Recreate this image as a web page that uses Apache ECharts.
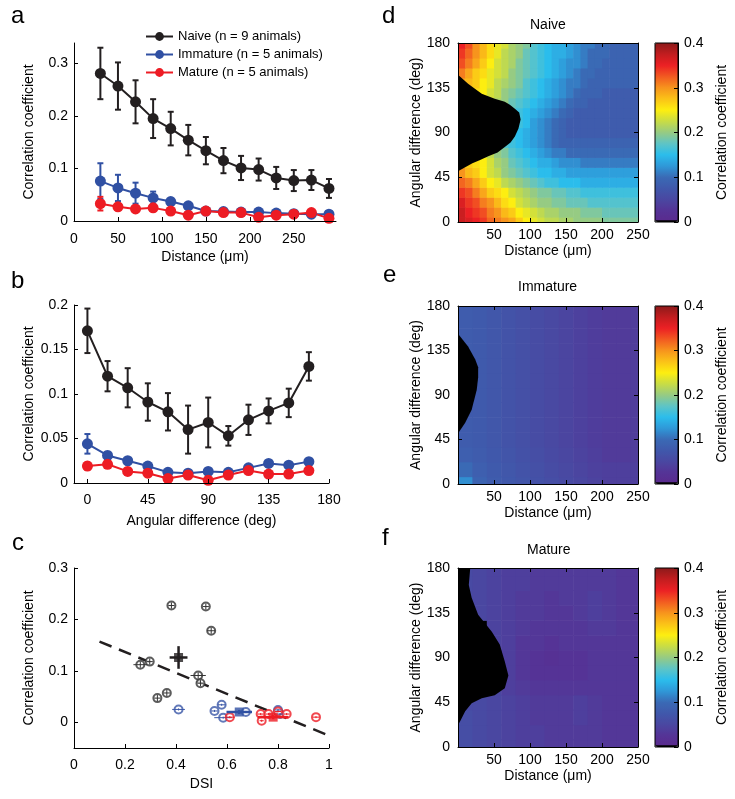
<!DOCTYPE html>
<html>
<head>
<meta charset="utf-8">
<script src="https://cdn.jsdelivr.net/npm/echarts@6/dist/echarts.min.js"></script>
<style>
  html, body { margin: 0; padding: 0; background: #fff; }
  #chart { width: 735px; height: 799px; }
</style>
</head>
<body>
<div id="chart"></div>
<script>
  // ---- panel a: correlation vs distance ----
  const distA = [30, 50, 70, 90, 110, 130, 150, 170, 190, 210, 230, 250, 270, 290]
  const naiveA = [0.281, 0.257, 0.227, 0.195, 0.176, 0.154, 0.134, 0.115, 0.101, 0.098, 0.082, 0.077, 0.078, 0.062]
  const naiveAErr = [0.049, 0.045, 0.041, 0.037, 0.032, 0.029, 0.026, 0.024, 0.023, 0.021, 0.021, 0.020, 0.019, 0.018]
  const immatureA = [0.076, 0.063, 0.053, 0.044, 0.037, 0.029, 0.019, 0.018, 0.017, 0.017, 0.015, 0.014, 0.013, 0.013]
  const immatureAErr = [0.034, 0.025, 0.020, 0.012, 0.006, 0.004, 0.003, 0.003, 0.003, 0.003, 0.003, 0.003, 0.003, 0.003]
  const matureA = [0.033, 0.027, 0.023, 0.025, 0.019, 0.011, 0.019, 0.016, 0.016, 0.007, 0.011, 0.013, 0.016, 0.005]
  const matureAErr = [0.013, 0.005, 0.004, 0.004, 0.003, 0.003, 0.003, 0.003, 0.003, 0.004, 0.003, 0.003, 0.003, 0.003]

  // ---- panel b: correlation vs angular difference ----
  const angleB = [0, 15, 30, 45, 60, 75, 90, 105, 120, 135, 150, 165]
  const naiveB = [0.171, 0.120, 0.107, 0.091, 0.080, 0.060, 0.068, 0.053, 0.071, 0.081, 0.090, 0.131]
  const naiveBErr = [0.025, 0.017, 0.022, 0.021, 0.021, 0.027, 0.028, 0.011, 0.017, 0.014, 0.016, 0.016]
  const immatureB = [0.044, 0.031, 0.025, 0.019, 0.012, 0.011, 0.013, 0.012, 0.017, 0.022, 0.020, 0.024]
  const immatureBErr = [0.011, 0.004, 0.003, 0.003, 0.003, 0.003, 0.003, 0.003, 0.003, 0.003, 0.003, 0.003]
  const matureB = [0.019, 0.021, 0.013, 0.011, 0.005, 0.009, 0.003, 0.009, 0.014, 0.010, 0.010, 0.014]
  const matureBErr = [0.004, 0.004, 0.004, 0.003, 0.003, 0.003, 0.003, 0.003, 0.003, 0.003, 0.003, 0.004]

  // ---- panel c: correlation vs DSI, [dsi, corr, dsiErr, corrErr] ----
  const naivePts = [[0.382, 0.227, 0.012, 0.006], [0.517, 0.225, 0.012, 0.006], [0.538, 0.178, 0.016, 0.006],
    [0.260, 0.112, 0.027, 0.006], [0.297, 0.118, 0.012, 0.006], [0.487, 0.091, 0.030, 0.006],
    [0.496, 0.076, 0.012, 0.006], [0.327, 0.047, 0.012, 0.006], [0.364, 0.057, 0.012, 0.006]]
  const immaturePts = [[0.410, 0.025, 0.025, 0.002], [0.551, 0.022, 0.013, 0.002], [0.579, 0.034, 0.016, 0.002],
    [0.585, 0.009, 0.035, 0.002], [0.674, 0.020, 0.015, 0.002], [0.800, 0.024, 0.012, 0.002], [0.808, 0.016, 0.012, 0.002]]
  const maturePts = [[0.611, 0.010, 0.020, 0.002], [0.732, 0.016, 0.012, 0.002], [0.736, 0.003, 0.008, 0.002],
    [0.763, 0.016, 0.012, 0.002], [0.800, 0.021, 0.012, 0.002], [0.834, 0.016, 0.012, 0.002], [0.949, 0.010, 0.012, 0.002]]
  const groupMeans = [[0.410, 0.126, 0.035, 0.022], [0.648, 0.020, 0.050, 0.004], [0.781, 0.010, 0.060, 0.004]]
  const fitDsi = [0.1, 1.0]
  const fitCorr = [0.157, -0.026]

  // ---- panel d: naive map (rows = angle, cols = distance), -1 = no data ----
  const naiveDist = [5, 15, 25, 35, 45, 55, 65, 75, 85, 95, 105, 115, 125, 135, 145, 155, 165, 175, 185, 195, 205, 215, 225, 235, 245]
  const naiveAngle = [0, 10, 20, 30, 40, 50, 60, 70, 80, 90, 100, 110, 120, 130, 140, 150, 160, 170, 180]
  const naiveMap = [
    [0.37, 0.36, 0.35, 0.34, 0.32, 0.31, 0.30, 0.29, 0.27, 0.25, 0.24, 0.23, 0.22, 0.22, 0.21, 0.21, 0.20, 0.20, 0.20, 0.20, 0.19, 0.19, 0.19, 0.19, 0.19],
    [0.37, 0.35, 0.34, 0.33, 0.31, 0.30, 0.28, 0.27, 0.25, 0.24, 0.23, 0.22, 0.21, 0.21, 0.20, 0.20, 0.20, 0.19, 0.19, 0.19, 0.18, 0.18, 0.18, 0.18, 0.18],
    [0.36, 0.34, 0.33, 0.31, 0.30, 0.28, 0.26, 0.25, 0.23, 0.22, 0.21, 0.20, 0.20, 0.19, 0.19, 0.18, 0.18, 0.18, 0.17, 0.17, 0.17, 0.17, 0.17, 0.17, 0.17],
    [0.34, 0.33, 0.31, 0.29, 0.27, 0.26, 0.25, 0.23, 0.22, 0.21, 0.20, 0.19, 0.19, 0.18, 0.18, 0.17, 0.17, 0.16, 0.16, 0.16, 0.16, 0.16, 0.16, 0.16, 0.16],
    [0.32, 0.31, 0.29, 0.27, 0.25, 0.24, 0.22, 0.21, 0.20, 0.19, 0.18, 0.17, 0.16, 0.16, 0.15, 0.15, 0.15, 0.14, 0.14, 0.14, 0.14, 0.14, 0.14, 0.14, 0.14],
    [0.30, 0.28, 0.27, 0.25, 0.23, 0.22, 0.20, 0.19, 0.18, 0.17, 0.16, 0.15, 0.15, 0.14, 0.14, 0.13, 0.13, 0.13, 0.13, 0.13, 0.13, 0.13, 0.13, 0.13, 0.13],
    [0.28, 0.27, 0.26, 0.25, 0.23, 0.21, 0.20, 0.18, 0.17, 0.16, 0.15, 0.14, 0.14, 0.13, 0.12, 0.12, 0.12, 0.11, 0.11, 0.11, 0.11, 0.11, 0.11, 0.11, 0.11],
    [-1, -1, 0.24, 0.23, 0.22, 0.20, 0.19, 0.17, 0.16, 0.15, 0.14, 0.13, 0.12, 0.11, 0.11, 0.10, 0.10, 0.10, 0.10, 0.10, 0.10, 0.10, 0.10, 0.10, 0.10],
    [-1, -1, -1, -1, 0.20, 0.19, 0.17, 0.16, 0.15, 0.14, 0.13, 0.12, 0.11, 0.10, 0.09, 0.09, 0.09, 0.09, 0.09, 0.09, 0.09, 0.09, 0.09, 0.09, 0.09],
    [-1, -1, -1, -1, -1, -1, 0.17, 0.16, 0.15, 0.14, 0.13, 0.12, 0.11, 0.10, 0.09, 0.08, 0.08, 0.08, 0.08, 0.08, 0.08, 0.08, 0.08, 0.08, 0.08],
    [-1, -1, -1, -1, -1, -1, -1, -1, 0.16, 0.15, 0.13, 0.12, 0.11, 0.10, 0.09, 0.08, 0.08, 0.08, 0.08, 0.08, 0.08, 0.08, 0.08, 0.08, 0.08],
    [-1, -1, -1, -1, -1, -1, -1, 0.17, 0.16, 0.15, 0.14, 0.13, 0.12, 0.11, 0.10, 0.09, 0.08, 0.08, 0.08, 0.08, 0.08, 0.08, 0.08, 0.08, 0.08],
    [-1, -1, -1, -1, 0.22, 0.21, 0.20, 0.18, 0.17, 0.16, 0.15, 0.14, 0.13, 0.12, 0.11, 0.10, 0.09, 0.09, 0.08, 0.08, 0.08, 0.08, 0.08, 0.08, 0.08],
    [-1, -1, 0.26, 0.25, 0.23, 0.22, 0.20, 0.19, 0.18, 0.17, 0.16, 0.15, 0.14, 0.13, 0.12, 0.11, 0.10, 0.09, 0.09, 0.09, 0.08, 0.08, 0.08, 0.08, 0.08],
    [0.29, 0.28, 0.27, 0.25, 0.24, 0.22, 0.21, 0.20, 0.19, 0.17, 0.16, 0.15, 0.14, 0.13, 0.12, 0.11, 0.11, 0.10, 0.09, 0.09, 0.09, 0.09, 0.09, 0.09, 0.09],
    [0.31, 0.29, 0.27, 0.26, 0.24, 0.23, 0.22, 0.20, 0.19, 0.18, 0.17, 0.16, 0.15, 0.14, 0.13, 0.12, 0.11, 0.10, 0.10, 0.09, 0.09, 0.09, 0.09, 0.09, 0.09],
    [0.33, 0.31, 0.29, 0.27, 0.25, 0.23, 0.22, 0.21, 0.19, 0.18, 0.17, 0.16, 0.15, 0.14, 0.13, 0.12, 0.12, 0.11, 0.10, 0.10, 0.09, 0.09, 0.09, 0.09, 0.09],
    [0.34, 0.32, 0.30, 0.28, 0.26, 0.24, 0.22, 0.21, 0.20, 0.18, 0.17, 0.16, 0.15, 0.14, 0.14, 0.13, 0.12, 0.11, 0.10, 0.10, 0.10, 0.09, 0.09, 0.09, 0.09],
    [0.35, 0.33, 0.30, 0.28, 0.26, 0.24, 0.23, 0.21, 0.20, 0.19, 0.17, 0.16, 0.15, 0.14, 0.14, 0.13, 0.12, 0.11, 0.11, 0.10, 0.10, 0.09, 0.09, 0.09, 0.09]
  ]
  const naiveMaskDist = [0, 10, 20, 30, 42, 55, 65, 73, 79, 84, 87, 85, 79, 72, 65, 51, 33, 14, 0]
  const naiveMaskAngle = [51, 55, 59, 62, 66, 70, 75.5, 80, 86, 94, 103, 110, 114, 118, 121, 124, 129, 139, 148]

  // ---- panels e, f: immature / mature maps ----
  const mapDist = [10, 30, 50, 70, 90, 110, 130, 150, 170, 190, 210, 230, 250]
  const mapAngle = [0, 15, 30, 45, 60, 75, 90, 105, 120, 135, 150, 165, 180]
  const immatureMap = [
    [0.120, 0.090, 0.080, 0.075, 0.070, 0.065, 0.060, 0.055, 0.050, 0.045, 0.040, 0.040, 0.040],
    [0.100, 0.085, 0.078, 0.073, 0.068, 0.063, 0.058, 0.053, 0.048, 0.043, 0.040, 0.040, 0.040],
    [0.085, 0.080, 0.075, 0.070, 0.065, 0.060, 0.055, 0.050, 0.045, 0.040, 0.035, 0.035, 0.037],
    [0.080, 0.078, 0.073, 0.068, 0.063, 0.058, 0.053, 0.048, 0.043, 0.038, 0.035, 0.035, 0.037],
    [0.080, 0.078, 0.073, 0.068, 0.063, 0.058, 0.053, 0.048, 0.043, 0.038, 0.035, 0.035, 0.037],
    [0.078, 0.078, 0.073, 0.068, 0.063, 0.058, 0.053, 0.048, 0.043, 0.038, 0.035, 0.035, 0.037],
    [-1, 0.078, 0.073, 0.068, 0.063, 0.058, 0.053, 0.048, 0.043, 0.038, 0.035, 0.035, 0.037],
    [-1, 0.078, 0.073, 0.068, 0.063, 0.058, 0.053, 0.048, 0.043, 0.038, 0.035, 0.035, 0.037],
    [-1, 0.078, 0.073, 0.068, 0.063, 0.058, 0.053, 0.048, 0.043, 0.038, 0.035, 0.035, 0.037],
    [0.080, 0.078, 0.073, 0.068, 0.063, 0.058, 0.053, 0.048, 0.043, 0.038, 0.035, 0.035, 0.037],
    [0.080, 0.078, 0.073, 0.068, 0.063, 0.058, 0.053, 0.048, 0.043, 0.038, 0.035, 0.035, 0.037],
    [0.080, 0.078, 0.073, 0.068, 0.063, 0.058, 0.053, 0.048, 0.043, 0.038, 0.035, 0.035, 0.037],
    [0.080, 0.078, 0.073, 0.068, 0.063, 0.058, 0.053, 0.048, 0.043, 0.038, 0.035, 0.035, 0.037]
  ]
  const immatureMaskDist = [0, 14, 24, 28, 28, 26, 19, 10, 0]
  const immatureMaskAngle = [152, 139, 126, 118, 108, 95, 75, 62, 51]
  const matureMap = [
    [0.060, 0.055, 0.050, 0.045, 0.040, 0.040, 0.035, 0.035, 0.035, 0.035, 0.030, 0.030, 0.030],
    [0.060, 0.055, 0.050, 0.045, 0.040, 0.040, 0.035, 0.035, 0.035, 0.035, 0.030, 0.030, 0.030],
    [0.060, 0.055, 0.050, 0.045, 0.040, 0.035, 0.035, 0.035, 0.040, 0.035, 0.030, 0.030, 0.030],
    [0.055, 0.055, 0.050, 0.045, 0.040, 0.035, 0.035, 0.035, 0.040, 0.035, 0.030, 0.030, 0.030],
    [-1, -1, 0.050, 0.040, 0.035, 0.030, 0.030, 0.030, 0.030, 0.030, 0.030, 0.030, 0.030],
    [-1, -1, -1, 0.040, 0.030, 0.025, 0.025, 0.025, 0.025, 0.030, 0.030, 0.030, 0.030],
    [-1, -1, -1, 0.040, 0.030, 0.025, 0.020, 0.025, 0.025, 0.030, 0.030, 0.030, 0.030],
    [-1, -1, 0.045, 0.040, 0.030, 0.030, 0.025, 0.030, 0.030, 0.030, 0.030, 0.030, 0.030],
    [-1, -1, 0.045, 0.040, 0.035, 0.030, 0.030, 0.030, 0.030, 0.035, 0.035, 0.030, 0.030],
    [-1, 0.050, 0.045, 0.040, 0.035, 0.035, 0.030, 0.030, 0.035, 0.040, 0.035, 0.030, 0.030],
    [0.055, 0.050, 0.045, 0.040, 0.035, 0.035, 0.030, 0.035, 0.035, 0.040, 0.035, 0.030, 0.030],
    [0.055, 0.050, 0.045, 0.040, 0.040, 0.035, 0.035, 0.035, 0.035, 0.035, 0.035, 0.030, 0.030],
    [0.055, 0.050, 0.045, 0.040, 0.040, 0.035, 0.035, 0.035, 0.035, 0.035, 0.035, 0.030, 0.030]
  ]
  const matureMaskDist = [0, 17, 15, 19, 28, 47, 58, 65, 70, 65, 51, 33, 19, 10, 3, 0]
  const matureMaskAngle = [180, 180, 163, 150, 133, 116, 103, 86, 72, 59, 52, 49, 44, 36, 26, 22]

  const groupNames = ['Naive (n = 9 animals)', 'Immature (n = 5 animals)', 'Mature (n = 5 animals)']
  const mapTitles = ['Naive', 'Immature', 'Mature']

  const FONT = '"Liberation Sans", Arial, sans-serif'
  const BLACK = '#231f20', BLUE = '#3050a3', RED = '#ed1c24'
  const JET = ['#5b2a8d', '#553396', '#4a47a1', '#4058ab', '#3a6ab5', '#2f98d8', '#2bbdec', '#5ec4c6',
    '#96cb83', '#c8dc45', '#fdee10', '#fbc217', '#f7941d', '#f25a21', '#ec2024', '#c21d1f', '#8c1a1a']

  const textStyle = { color: '#000', fontSize: 14, fontFamily: FONT }

  function axis(gridIndex, min, max, ticks, opts) {
    opts = opts || {}
    return {
      type: 'value', gridIndex: gridIndex, min: min, max: max,
      position: opts.position, show: opts.show !== false, z: 10,
      name: opts.name, nameLocation: 'middle', nameGap: opts.nameGap, nameTextStyle: textStyle,
      axisLine: { show: true, onZero: false, lineStyle: { color: '#000', width: 1 } },
      axisTick: { show: !!ticks, inside: true, length: 4, customValues: ticks, lineStyle: { color: '#000' } },
      axisLabel: Object.assign({ show: opts.labels !== false, customValues: ticks, margin: opts.margin || 8 }, textStyle),
      splitLine: { show: false }
    }
  }

  function errorBar(color, width, cap) {
    return function (params, api) {
      const x = api.value(0), y = api.value(1), e = api.value(2)
      const hi = api.coord([x, y + e]), lo = api.coord([x, y - e])
      const s = { stroke: color, lineWidth: width }
      return { type: 'group', children: [
        { type: 'line', shape: { x1: hi[0], y1: hi[1], x2: lo[0], y2: lo[1] }, style: s },
        { type: 'line', shape: { x1: hi[0] - cap, y1: hi[1], x2: hi[0] + cap, y2: hi[1] }, style: s },
        { type: 'line', shape: { x1: lo[0] - cap, y1: lo[1], x2: lo[0] + cap, y2: lo[1] }, style: s }
      ] }
    }
  }

  function crossBar(color, width) {
    return function (params, api) {
      const x = api.value(0), y = api.value(1), ex = api.value(2), ey = api.value(3)
      const l = api.coord([x - ex, y]), r = api.coord([x + ex, y])
      const t = api.coord([x, y + ey]), b = api.coord([x, y - ey])
      const s = { stroke: color, lineWidth: width }
      return { type: 'group', children: [
        { type: 'line', shape: { x1: l[0], y1: l[1], x2: r[0], y2: r[1] }, style: s },
        { type: 'line', shape: { x1: t[0], y1: t[1], x2: b[0], y2: b[1] }, style: s }
      ] }
    }
  }

  function cellItem(stepD, stepA) {
    return function (params, api) {
      const x = api.value(0), y = api.value(1)
      const p0 = api.coord([x - stepD / 2, y + stepA / 2])
      const p1 = api.coord([x + stepD / 2, y - stepA / 2])
      return {
        type: 'rect',
        shape: { x: p0[0], y: p0[1], width: p1[0] - p0[0] + 0.6, height: p1[1] - p0[1] + 0.6 },
        style: { fill: api.visual('color') }
      }
    }
  }

  // no-data region: one polygon through all outline points
  function maskItem(dists, angles) {
    return function (params, api) {
      if (params.dataIndex !== 0) return
      const pts = dists.map((d, i) => api.coord([d, angles[i]]))
      return { type: 'polygon', shape: { points: pts }, style: { fill: '#000' } }
    }
  }

  const series = []

  function addLineGroup(idx, xs, ys, errs, name, color) {
    series.push({
      type: 'custom', xAxisIndex: idx, yAxisIndex: idx, silent: true, z: 2,
      data: xs.map((x, i) => [x, ys[i], errs[i]]), renderItem: errorBar(color, 2, 3)
    })
    series.push({
      type: 'line', name: name, xAxisIndex: idx, yAxisIndex: idx, z: 3,
      data: xs.map((x, i) => [x, ys[i]]), symbol: 'circle', symbolSize: 11,
      itemStyle: { color: color }, lineStyle: { color: color, width: 2 }
    })
  }

  addLineGroup(0, distA, naiveA, naiveAErr, groupNames[0], BLACK)
  addLineGroup(0, distA, immatureA, immatureAErr, groupNames[1], BLUE)
  addLineGroup(0, distA, matureA, matureAErr, groupNames[2], RED)
  addLineGroup(1, angleB, naiveB, naiveBErr, groupNames[0], BLACK)
  addLineGroup(1, angleB, immatureB, immatureBErr, groupNames[1], BLUE)
  addLineGroup(1, angleB, matureB, matureBErr, groupNames[2], RED)

  // panel c
  series.push({
    type: 'line', xAxisIndex: 2, yAxisIndex: 2, silent: true, symbol: 'none', z: 2,
    data: fitDsi.map((x, i) => [x, fitCorr[i]]),
    lineStyle: { color: BLACK, width: 2.5, type: [13, 8] }
  })
  const scatterGroups = [[naivePts, '#333333'], [immaturePts, '#3b58a8'], [maturePts, RED]]
  scatterGroups.forEach(function (g) {
    series.push({
      type: 'scatter', xAxisIndex: 2, yAxisIndex: 2, silent: true, z: 3,
      data: g[0].map(p => [p[0], p[1]]), symbol: 'emptyCircle', symbolSize: 8,
      itemStyle: { color: g[1], borderColor: g[1], borderWidth: 1 }
    })
    series.push({
      type: 'custom', xAxisIndex: 2, yAxisIndex: 2, silent: true, z: 4,
      data: g[0], renderItem: crossBar(g[1], 1)
    })
  })
  const meanColors = [BLACK, BLUE, RED]
  groupMeans.forEach(function (m, i) {
    series.push({
      type: 'custom', xAxisIndex: 2, yAxisIndex: 2, silent: true, z: 5,
      data: [m], renderItem: crossBar(meanColors[i], 2.5)
    })
    series.push({
      type: 'scatter', xAxisIndex: 2, yAxisIndex: 2, silent: true, z: 6,
      data: [[m[0], m[1]]], symbol: 'rect', symbolSize: 9, itemStyle: { color: meanColors[i] }
    })
  })

  // panels d-f
  const maps = [
    { values: naiveMap, dist: naiveDist, angle: naiveAngle, stepD: 10, stepA: 10, maskD: naiveMaskDist, maskA: naiveMaskAngle },
    { values: immatureMap, dist: mapDist, angle: mapAngle, stepD: 20, stepA: 15, maskD: immatureMaskDist, maskA: immatureMaskAngle },
    { values: matureMap, dist: mapDist, angle: mapAngle, stepD: 20, stepA: 15, maskD: matureMaskDist, maskA: matureMaskAngle }
  ]
  const mapTops = [43, 306, 568]
  const mapHeights = [179, 178, 179]
  const visualMaps = []
  maps.forEach(function (m, k) {
    const cells = []
    m.angle.forEach(function (a, i) {
      m.dist.forEach(function (d, j) { cells.push([d, a, m.values[i][j]]) })
    })
    visualMaps.push({
      type: 'continuous', seriesIndex: series.length, dimension: 2,
      min: 0, max: 0.4, range: [0.004, 0.4], calculable: false, hoverLink: false,
      show: true, orient: 'vertical', left: 655, top: mapTops[k], itemWidth: 23, itemHeight: mapHeights[k],
      padding: 0, z: 1,
      inRange: { color: JET }, outOfRange: { color: ['#000'] }
    })
    series.push({
      type: 'custom', xAxisIndex: 3 + k, yAxisIndex: 3 + k, silent: true, clip: true, z: 2,
      data: cells, renderItem: cellItem(m.stepD, m.stepA)
    })
    series.push({
      type: 'custom', xAxisIndex: 3 + k, yAxisIndex: 3 + k, silent: true, clip: true, z: 3,
      data: m.maskD.map((d, i) => [d, m.maskA[i]]), renderItem: maskItem(m.maskD, m.maskA)
    })
  })

  const grids = [
    { left: 74, top: 43, width: 262, height: 178 },
    { left: 74, top: 305, width: 255, height: 178 },
    { left: 74, top: 568, width: 255, height: 180 }
  ]
  mapTops.forEach(function (t, k) {
    grids.push({ left: 458, top: t, width: 180, height: mapHeights[k] })
  })
  mapTops.forEach(function (t, k) {
    grids.push({ left: 655, top: t, width: 23, height: mapHeights[k], show: true, borderColor: '#000', borderWidth: 1, backgroundColor: 'transparent', z: 10 })
  })

  const distTicks = [50, 100, 150, 200, 250]
  const angTicks = [0, 45, 90, 135, 180]
  const cbTicks = [0, 0.1, 0.2, 0.3, 0.4]
  const corrLabel = 'Correlation coefficient'

  const xAxes = [
    axis(0, 0, 298, [0, 50, 100, 150, 200, 250], { name: 'Distance (μm)', nameGap: 29, margin: 11 }),
    axis(1, -10, 180, [0, 45, 90, 135, 180], { name: 'Angular difference (deg)', nameGap: 31, margin: 10 }),
    axis(2, 0, 1, [0, 0.2, 0.4, 0.6, 0.8, 1], { name: 'DSI', nameGap: 29, margin: 10 })
  ]
  const yAxes = [
    axis(0, 0, 0.339, [0, 0.1, 0.2, 0.3], { name: corrLabel, nameGap: 38, margin: 6 }),
    axis(1, 0, 0.2, [0, 0.05, 0.1, 0.15, 0.2], { name: corrLabel, nameGap: 38, margin: 6 }),
    axis(2, -0.05, 0.3, [0, 0.1, 0.2, 0.3], { name: corrLabel, nameGap: 38, margin: 6 })
  ]
  for (let k = 0; k < 3; k++) {
    xAxes.push(axis(3 + k, 0, 250, distTicks, { name: 'Distance (μm)', nameGap: 22, margin: 6, position: 'bottom' }))
    yAxes.push(axis(3 + k, 0, 180, angTicks, { name: 'Angular difference (deg)', nameGap: 35, margin: 8, position: 'left' }))
  }
  for (let k = 0; k < 3; k++) {
    xAxes.push(axis(3 + k, 0, 250, distTicks, { position: 'top', labels: false }))
    yAxes.push(axis(3 + k, 0, 180, angTicks, { position: 'right', labels: false }))
  }
  for (let k = 0; k < 3; k++) {
    xAxes.push({ type: 'value', gridIndex: 6 + k, min: 0, max: 1, show: false })
    yAxes.push(axis(6 + k, 0, 0.4, cbTicks, { name: corrLabel, nameGap: 37, margin: 6, position: 'right' }))
  }

  const letters = [['a', 11, 4], ['b', 11, 269], ['c', 12, 531], ['d', 382, 4], ['e', 383, 263], ['f', 382, 526]]
  const titles = letters.map(l => ({
    text: l[0], left: l[1], top: l[2], padding: 0,
    textStyle: { fontSize: 24, fontWeight: 'normal', color: '#000', fontFamily: FONT }
  }))
  const titleLeft = [530, 518, 527]
  const titleTop = [18, 280, 543]
  mapTitles.forEach(function (t, k) {
    titles.push({ text: t, left: titleLeft[k], top: titleTop[k], padding: 0, textStyle: Object.assign({ fontWeight: 'normal' }, textStyle) })
  })

  const chart = echarts.init(document.getElementById('chart'))
  chart.setOption({
    animation: false,
    backgroundColor: '#fff',
    title: titles,
    legend: {
      data: groupNames, orient: 'vertical', left: 145, top: 30, padding: 0,
      itemWidth: 27, itemHeight: 11, itemGap: 5, selectedMode: false,
      textStyle: { color: '#000', fontSize: 13, fontFamily: FONT }
    },
    grid: grids,
    xAxis: xAxes,
    yAxis: yAxes,
    visualMap: visualMaps,
    series: series
  })
</script>
</body>
</html>
